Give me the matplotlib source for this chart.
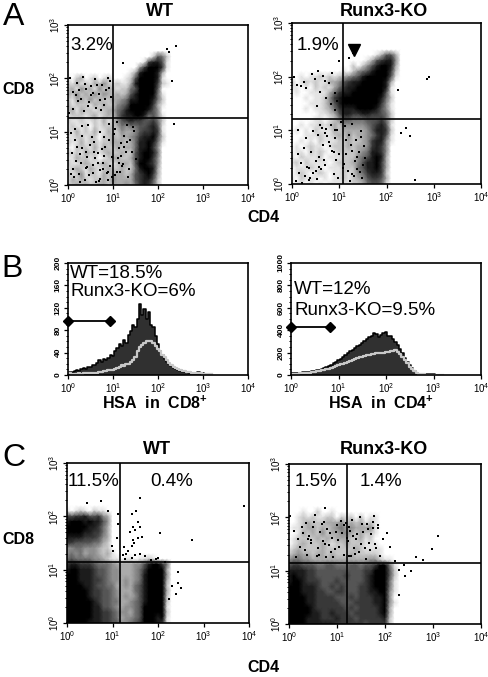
import matplotlib
matplotlib.use('Agg')
import matplotlib.pyplot as plt
import numpy as np

plt.rcParams['font.family'] = ['Liberation Sans', 'DejaVu Sans']
plt.rcParams['mathtext.fontset'] = 'custom'
plt.rcParams['mathtext.rm'] = 'Liberation Sans'
plt.rcParams['mathtext.bf'] = 'Liberation Sans:bold'

W, H = 488, 677

# darkness, 0 white .. 9 black
# columns are log CD4 0, .1, .. 2.5 and rows are log CD8 2.5 down to 0
# short rows are white on the right
grid_x = [i / 10 for i in range(26)]
grid_y = [(25 - i) / 10 for i in range(26)]

a_wt = ['00000000000000000000110',
        '000000000000000000026520',
        '000000000000000001788610',
        '000000000000000047999710',
        '000000000000001389998300',
        '102301201200012699998100',
        '213121324212113899997210',
        '231423142321225699996000',
        '324232424323236899995100',
        '213324232233458899985200',
        '312221323224569999973100',
        '231322122335689999864000',
        '122212312325788998564100',
        '211211213124678776675200',
        '121120212223545566786100',
        '213121311322433467787100',
        '112212202232334578896200',
        '211312212233323588985100',
        '102221313223233588974000',
        '212132212322322689985000',
        '113221201233223689974000',
        '211232123212332699874000',
        '123213212322322589983000',
        '212412213233323678973000',
        '132321223243333678862000',
        '223232233233343578752000']
a_ko = ['000000000000000000000000',
        '000000000000000000136630',
        '000000000000000013678840',
        '000000000000020246899830',
        '000000000001024568999720',
        '001011212123456899999610',
        '201212113346788999998300',
        '110102121357889999998100',
        '010011113578899999996100',
        '000101124789999999985200',
        '000011124689999999974100',
        '000101123578889999864100',
        '000000112368877887765200',
        '000001101246655566675200',
        '001011212324444456786100',
        '010102111323333346887200',
        '000111211232423345786100',
        '001010211122322347884100',
        '010121101222323347874000',
        '011021210122223458874000',
        '102111201112224568983000',
        '120211110122234688973000',
        '011121101112225688973000',
        '012101210112124578872000',
        '102111010112123467763000',
        '011010101111122356651000']
c_wt = ['0',
        '0',
        '0',
        '0',
        '101210211',
        '767786674300',
        '899989886400',
        '999998875300',
        '999988775300',
        '888877764300',
        '776666553200',
        '445544432200',
        '454534432310',
        '565555443211011011210',
        '788777655543333446899750',
        '899888766544333457999930',
        '999888766544333458999940',
        '999888776544343458999930',
        '999988766553343568999920',
        '999998776654333568999930',
        '999998776654343468999920',
        '999999876655334568999920',
        '999999886654344569999910',
        '999999887765443569999920',
        '999999887765344569998910',
        '999998887766445679998710']
c_ko = ['0',
        '0',
        '0',
        '0',
        '000100200100',
        '001212112202120201100',
        '001232223334232312100',
        '011233232345343334100',
        '001323242334432322100',
        '012222323233322312',
        '012322232122322211100',
        '123222232222223211110',
        '234332332322232222210',
        '455443333333333334421100',
        '677666556655566566799510',
        '888877666666666677999620',
        '898877666666766678999620',
        '899877766676666678999510',
        '999888766767666778999510',
        '999888776677666778899410',
        '999988777766676777889400',
        '999988777776667777889410',
        '999998777777676777789300',
        '999998877877767777789300',
        '999988877787776777778200',
        '999988888877777767777200']

# single dots, log units
a_wt_x = [.05, .12, .2, .28, .33, .4, .47, .52, .6, .68, .75, .8, .88, .95, .1, .22, .35, .5, .62, .72, .85, .93, .15, .3, .45, .58, .7, .82, .9, .08, .18, .3, .43, .55, .67, .78, .92, 1.02, 1.1, 1.18, .25, .38, .55, .7, .88, .1, .27, .42, .63, .77, .97, 1.15, 1.28, 2.25, 2.4, 2.2, 1.22, 2.3, 2.35,
          .03, .17, .24, .37, .44, .56, .64, .73, .83, .91, .07, .19, .32, .41, .53, .66, .76, .86, .97, .13, .26, .39, .49, .6, .71, .81, .94, .06, .16, .29, .46, .57, .69, .79, .89, 1.05, 1.13, 1.22, 1.3, 1.38, 1.08, 1.17, 1.25, 1.33, 1.42, 1.04, 1.14, 1.24, 1.35, 1.46, 1.52, 1.09, 1.2, 1.31, 1.44]
a_wt_y = [2.0, 1.75, 1.92, 1.62, 2.02, 1.8, 1.55, 1.85, 1.98, 1.7, 1.88, 1.5, 2.0, 1.65, 1.42, 1.58, 1.38, 1.68, 1.45, 1.6, 1.78, 1.95, 1.05, .92, 1.12, .8, 1.0, .72, 1.15, .6, .45, .7, .52, .38, .6, .3, .85, .95, .5, .78, .2, .1, .22, .12, .25, .3, .05, .33, .06, .42, .15, .25, .62, 2.5, 2.6, 2.55, 2.28, 1.95, 1.15,
          1.35, 1.68, 1.78, 1.9, 1.48, 1.72, 1.87, 1.4, 1.62, 1.82, .98, .72, 1.1, .62, .9, .42, .68, .22, .52, .15, .58, .32, .75, .5, .28, .9, .35, .2, .85, .42, .18, .62, .08, .55, .1, 1.05, .7, .4, 1.12, .85, .25, .55, .92, .15, .62, .18, .42, .72, .3, 1.02, .48, 1.18, .35, .8, 1.08]
a_ko_x = [.05, .1, .18, .25, .3, .42, .48, .55, .65, .7, .78, .85, .92, 1.0, .6, .73, .82, .9, .96, .52, .12, .2, .32, .4, .5, .58, .66, .75, .82, .95, .15, .28, .36, .52, .62, .7, .88, 1.0, .08, .22, .35, .5, .68, .8, .92, .12, .3, .45, .6, .72, .88, 2.3, 2.42, 2.5, 2.85, 2.9, 2.6, 2.25, 1.2, 1.3,
          1.12, 1.2, 1.28, 1.36, 1.45, 1.52, 1.15, 1.24, 1.33, 1.42, 1.5, 1.18, 1.27, 1.38, 1.48, 1.1, 1.22, 1.32, 1.44, 1.55, 1.14, 1.26, 1.37, 1.47, .44, .57, .69, .84, .98, .26, .38, .63, .79, .93, 1.04, 1.07, .55, .9]
a_ko_y = [2.0, 1.85, 1.82, 1.9, 1.78, 2.05, 1.95, 2.1, 2.02, 1.92, 1.88, 2.06, 1.7, 2.3, 1.72, 1.6, 1.5, 1.38, 1.55, 1.45, .55, .4, .32, .6, .42, .5, .72, .9, 1.1, 1.0, .2, .15, .3, .1, .28, .35, .18, .55, .05, .02, .08, .25, .45, .7, .85, 1.0, .85, .98, 1.1, 1.02, .6, .95, 1.05, .9, 1.95, 2.0, .08, 1.75, 2.35, 2.45,
          1.08, .92, 1.12, .82, .98, .7, .55, .72, .42, .6, .35, .25, .18, .28, .12, .38, .05, .15, .22, .48, .82, .62, .5, .88, .2, .32, .95, .62, .12, .68, .12, 1.05, .78, .45, 1.15, .3, .92, 1.0]
c_wt_x = [1.6, 1.52, 1.42, 1.45, 1.5, 1.57, 1.38, 1.45, 1.42, 1.55, 1.6, 1.65, 1.48, 1.5, 1.35, 1.25, 1.3, 1.42, 1.6, 1.72, 2.05, 3.9, 2.75, 2.45, 2.0, 2.15, .45, .75, .9, 1.12, 1.13, 1.1, .98, 1.0, 2.3, 2.4, 2.5, 2.45, 1.22, 1.28, 1.95, 1.85, 2.25]
c_wt_y = [2.35, 2.1, 2.05, 1.8, 1.75, 1.6, 1.7, 1.55, 1.45, 1.9, 1.8, 1.62, 1.5, 1.28, 1.35, 1.42, 1.3, 1.22, 1.3, 1.25, 1.68, 2.2, 1.55, .75, 1.22, 1.15, 2.25, 2.28, 2.1, 2.05, 1.85, 1.6, 1.45, 1.35, .7, .55, .65, .95, 1.28, 1.2, 1.2, 1.18, .45]
c_ko_x = [.03, .1, .18, .3, .35, .42, .5, .55, .65, .72, .8, .9, 1.0, 1.1, 1.18, 1.25, 1.32, 1.4, 1.48, 1.55, 1.62, 1.7, 1.78, 1.85, 1.95, 2.05, .22, .38, .6, .75, .88, 1.05, 1.22, 1.38, 1.5, 1.68, 1.9, .15, .45, .58, .78, .95, 1.15, 1.3, 1.45, 1.6, 1.8, 2.3, 2.42, 2.55, 2.65, 2.8, 2.98, 3.1, 2.1, 2.2, 2.4, 2.3, .75, 1.85,
          .27, .46, .68, .84, .97, 1.08, 1.2, 1.28, 1.36, 1.52, 1.66, 1.74, .33, .52, .7, .92, 1.14, 1.34, 1.58, 1.76, .4, .62, .86, 1.02, 1.24, 1.42, 1.64, 1.82]
c_ko_y = [2.02, 1.75, 1.6, 1.7, 1.9, 1.65, 1.82, 2.05, 1.72, 1.92, 1.78, 1.62, 1.85, 1.7, 1.9, 1.82, 1.95, 1.6, 2.0, 1.72, 1.88, 1.68, 2.02, 1.8, 1.6, 1.7, 1.45, 1.3, 1.42, 1.5, 1.35, 1.45, 1.55, 1.32, 1.5, 1.38, 1.28, 1.25, 1.52, 1.28, 1.25, 1.4, 1.3, 1.28, 1.35, 1.22, 1.5, 1.02, .9, 1.0, 1.25, 1.2, 1.4, 1.65, 1.45, 1.18, 1.1, .55, 2.18, 1.85,
          1.82, 1.58, 1.88, 1.48, 1.72, 1.94, 1.62, 1.75, 1.42, 1.88, 1.52, 1.8, 1.38, 1.92, 1.55, 1.25, 1.85, 1.65, 1.42, 1.92, 1.6, 1.3, 1.7, 1.58, 1.28, 1.68, 1.78, 1.42]

# gate values
a_wt_gate = (1.0, 1.26)
a_ko_gate = (1.08, 1.21)
c_wt_gate = (1.165, 1.14)
c_ko_gate = (1.21, 1.14)

# histograms, log HSA every .05 from 0 to 3.2
hist_x = [i / 20 for i in range(65)]
b_wt_wt = [3, 5, 6, 8, 9, 7, 10, 13, 11, 15, 14, 18, 17, 22, 26, 24, 28, 26, 31, 36,
           34, 42, 48, 55, 52, 62, 58, 72, 78, 90, 85, 100, 126, 108, 118, 100, 112, 90, 85, 70,
           55, 42, 36, 28, 24, 20, 16, 12, 11, 9, 8, 6, 6, 5, 4, 3, 3, 4, 6, 4, 3, 2, 2, 1, 1]
b_wt_ko = [3, 3, 2, 2, 2, 3, 2, 3, 3, 3, 3, 3, 4, 4, 6, 6, 7, 8, 9, 9,
           9, 10, 12, 14, 17, 16, 19, 20, 24, 27, 32, 42, 50, 54, 57, 60, 60, 61, 58, 52,
           46, 42, 36, 32, 26, 22, 18, 15, 12, 11, 9, 8, 7, 6, 5, 4, 3, 3, 3, 3, 2, 2, 1, 1, 1]
b_ko_wt = [15, 16, 18, 20, 22, 24, 26, 28, 30, 34, 38, 42, 48, 56, 65, 72, 80, 92, 105, 118,
           130, 145, 160, 178, 195, 210, 225, 240, 255, 270, 285, 300, 320, 335, 345, 375, 370, 340, 355, 375,
           385, 350, 345, 320, 295, 265, 235, 195, 155, 120, 85, 60, 35, 22, 12, 8, 6, 7, 8, 6, 5, 4, 3, 2, 2]
b_ko_ko = [10, 11, 12, 13, 15, 16, 18, 20, 22, 25, 28, 32, 36, 42, 48, 52, 58, 65, 72, 80,
           88, 95, 102, 110, 118, 126, 135, 144, 152, 158, 165, 170, 175, 180, 185, 188, 192, 195, 198, 195,
           205, 208, 212, 218, 222, 208, 190, 165, 135, 105, 75, 52, 32, 20, 12, 8, 5, 4, 3, 3, 2, 2, 2, 1, 1]


def px_axes(left, right, top, bottom):
    return fig.add_axes([left / W, 1 - bottom / H, (right - left) / W, (bottom - top) / H])


def px_text(x, y, s, **kw):
    kw.setdefault('ha', 'center')
    kw.setdefault('va', 'center')
    fig.text(x / W, 1 - y / H, s, **kw)


def style_log_x(ax):
    ax.set_xscale('log')
    ax.set_xlim(1, 1e4)
    ax.set_xticks([1, 10, 100, 1000, 10000])
    ax.set_xticklabels(['$\\mathregular{10^{%d}}$' % i for i in range(5)], fontsize=7)
    ax.tick_params(axis='x', which='major', length=3, width=.9, pad=1.5)
    ax.tick_params(axis='x', which='minor', length=1.8, width=.7, labelbottom=False)
    ax.tick_params(axis='y', which='major', length=3, width=.9, pad=1.5)
    ax.tick_params(axis='y', which='minor', length=1.8, width=.7)
    for s in ax.spines.values():
        s.set_linewidth(1.2)


def dot_panel(box, grid, dots_x, dots_y, gate):
    ax = px_axes(*box)
    z = np.array([[int(c) for c in row.ljust(len(grid_x), '0')] for row in grid]) / 9
    ax.pcolormesh(10.0 ** np.array(grid_x), 10.0 ** np.array(grid_y), z, cmap='gray_r',
                  vmin=0, vmax=1, shading='gouraud', rasterized=True)
    ax.scatter(10.0 ** np.array(dots_x), 10.0 ** np.array(dots_y), s=1.6, marker='s',
               c='k', linewidths=0, zorder=3)
    style_log_x(ax)
    ax.set_yscale('log')
    ax.set_ylim(1, 1e3)
    ax.set_yticks([1, 10, 100, 1000])
    ax.set_yticklabels(['$\\mathregular{10^{%d}}$' % i for i in range(4)], fontsize=7,
                       rotation=90, va='center')
    ax.axvline(10 ** gate[0], color='k', lw=1.2, zorder=4)
    ax.axhline(10 ** gate[1], color='k', lw=1.2, zorder=4)
    return ax


def hist_panel(box, wt, ko, ymax, yticks, marker_y, marker_x):
    ax = px_axes(*box)
    x = 10.0 ** np.array(hist_x)
    ax.fill_between(x, 0, wt, color='#303030', step='mid', lw=0)
    ax.step(x, wt, where='mid', color='k', lw=1.1)
    ax.step(x, ko, where='mid', color='#c8c8c8', lw=1.6)
    style_log_x(ax)
    ax.set_ylim(0, ymax)
    ax.set_yticks(yticks)
    ax.set_yticks(np.linspace(0, ymax, 21), minor=True)
    ax.set_yticklabels([str(t) for t in yticks], fontsize=6, rotation=90, va='center',
                       fontweight='bold')
    ax.plot([1, marker_x], [marker_y, marker_y], color='k', lw=1.3, marker='D', ms=5.5,
            clip_on=False, zorder=5)
    return ax


fig = plt.figure(figsize=(W / 100, H / 100), dpi=100)

dot_panel((68, 248, 25, 185), a_wt, a_wt_x, a_wt_y, a_wt_gate)
ax = dot_panel((292, 481, 23, 184), a_ko, a_ko_x, a_ko_y, a_ko_gate)
ax.plot([10 ** 1.31], [10 ** 2.5], marker='v', color='k', ms=9, zorder=5)
dot_panel((67, 249, 463, 623), c_wt, c_wt_x, c_wt_y, c_wt_gate)
dot_panel((289, 481, 464, 624), c_ko, c_ko_x, c_ko_y, c_ko_gate)

hist_panel((68, 248, 263, 375), b_wt_wt, b_wt_ko, 200, [0, 40, 80, 120, 160, 200], 97, 10 ** .93)
hist_panel((291, 481, 263, 375), b_ko_wt, b_ko_ko, 1000, [0, 200, 400, 600, 800, 1000], 430, 10 ** .83)

for x, y, s in [(14, 17, 'A'), (12, 269, 'B'), (14, 458, 'C')]:
    px_text(x, y, s, fontsize=23)
for x, y, s in [(160, 12, 'WT'), (384, 12, 'Runx3-KO'), (157, 450, 'WT'), (384, 450, 'Runx3-KO')]:
    px_text(x, y, s, fontsize=13, fontweight='bold')
for y in [90, 540]:
    px_text(18, y, 'CD8', fontsize=11.5, fontweight='bold')
for y in [217, 667]:
    px_text(263, y, 'CD4', fontsize=11.5, fontweight='bold')
px_text(155, 403, 'HSA  in  CD8$\\mathbf{^{+}}$', fontsize=11.5, fontweight='bold')
px_text(381, 403, 'HSA  in  CD4$\\mathbf{^{+}}$', fontsize=11.5, fontweight='bold')

for x, y, s in [(70, 46, '3.2%'), (297, 45, '1.9%'), (68, 481, '11.5%'), (150, 481, '0.4%'),
                (295, 481, '1.5%'), (360, 481, '1.4%')]:
    px_text(x, y, s, fontsize=13.5, ha='left')
for x, y, s in [(70, 274, 'WT=18.5%'), (70, 292, 'Runx3-KO=6%'), (294, 289, 'WT=12%'), (294, 310, 'Runx3-KO=9.5%')]:
    px_text(x, y, s, fontsize=13.5, ha='left')

fig.savefig('out.png', dpi=100)
